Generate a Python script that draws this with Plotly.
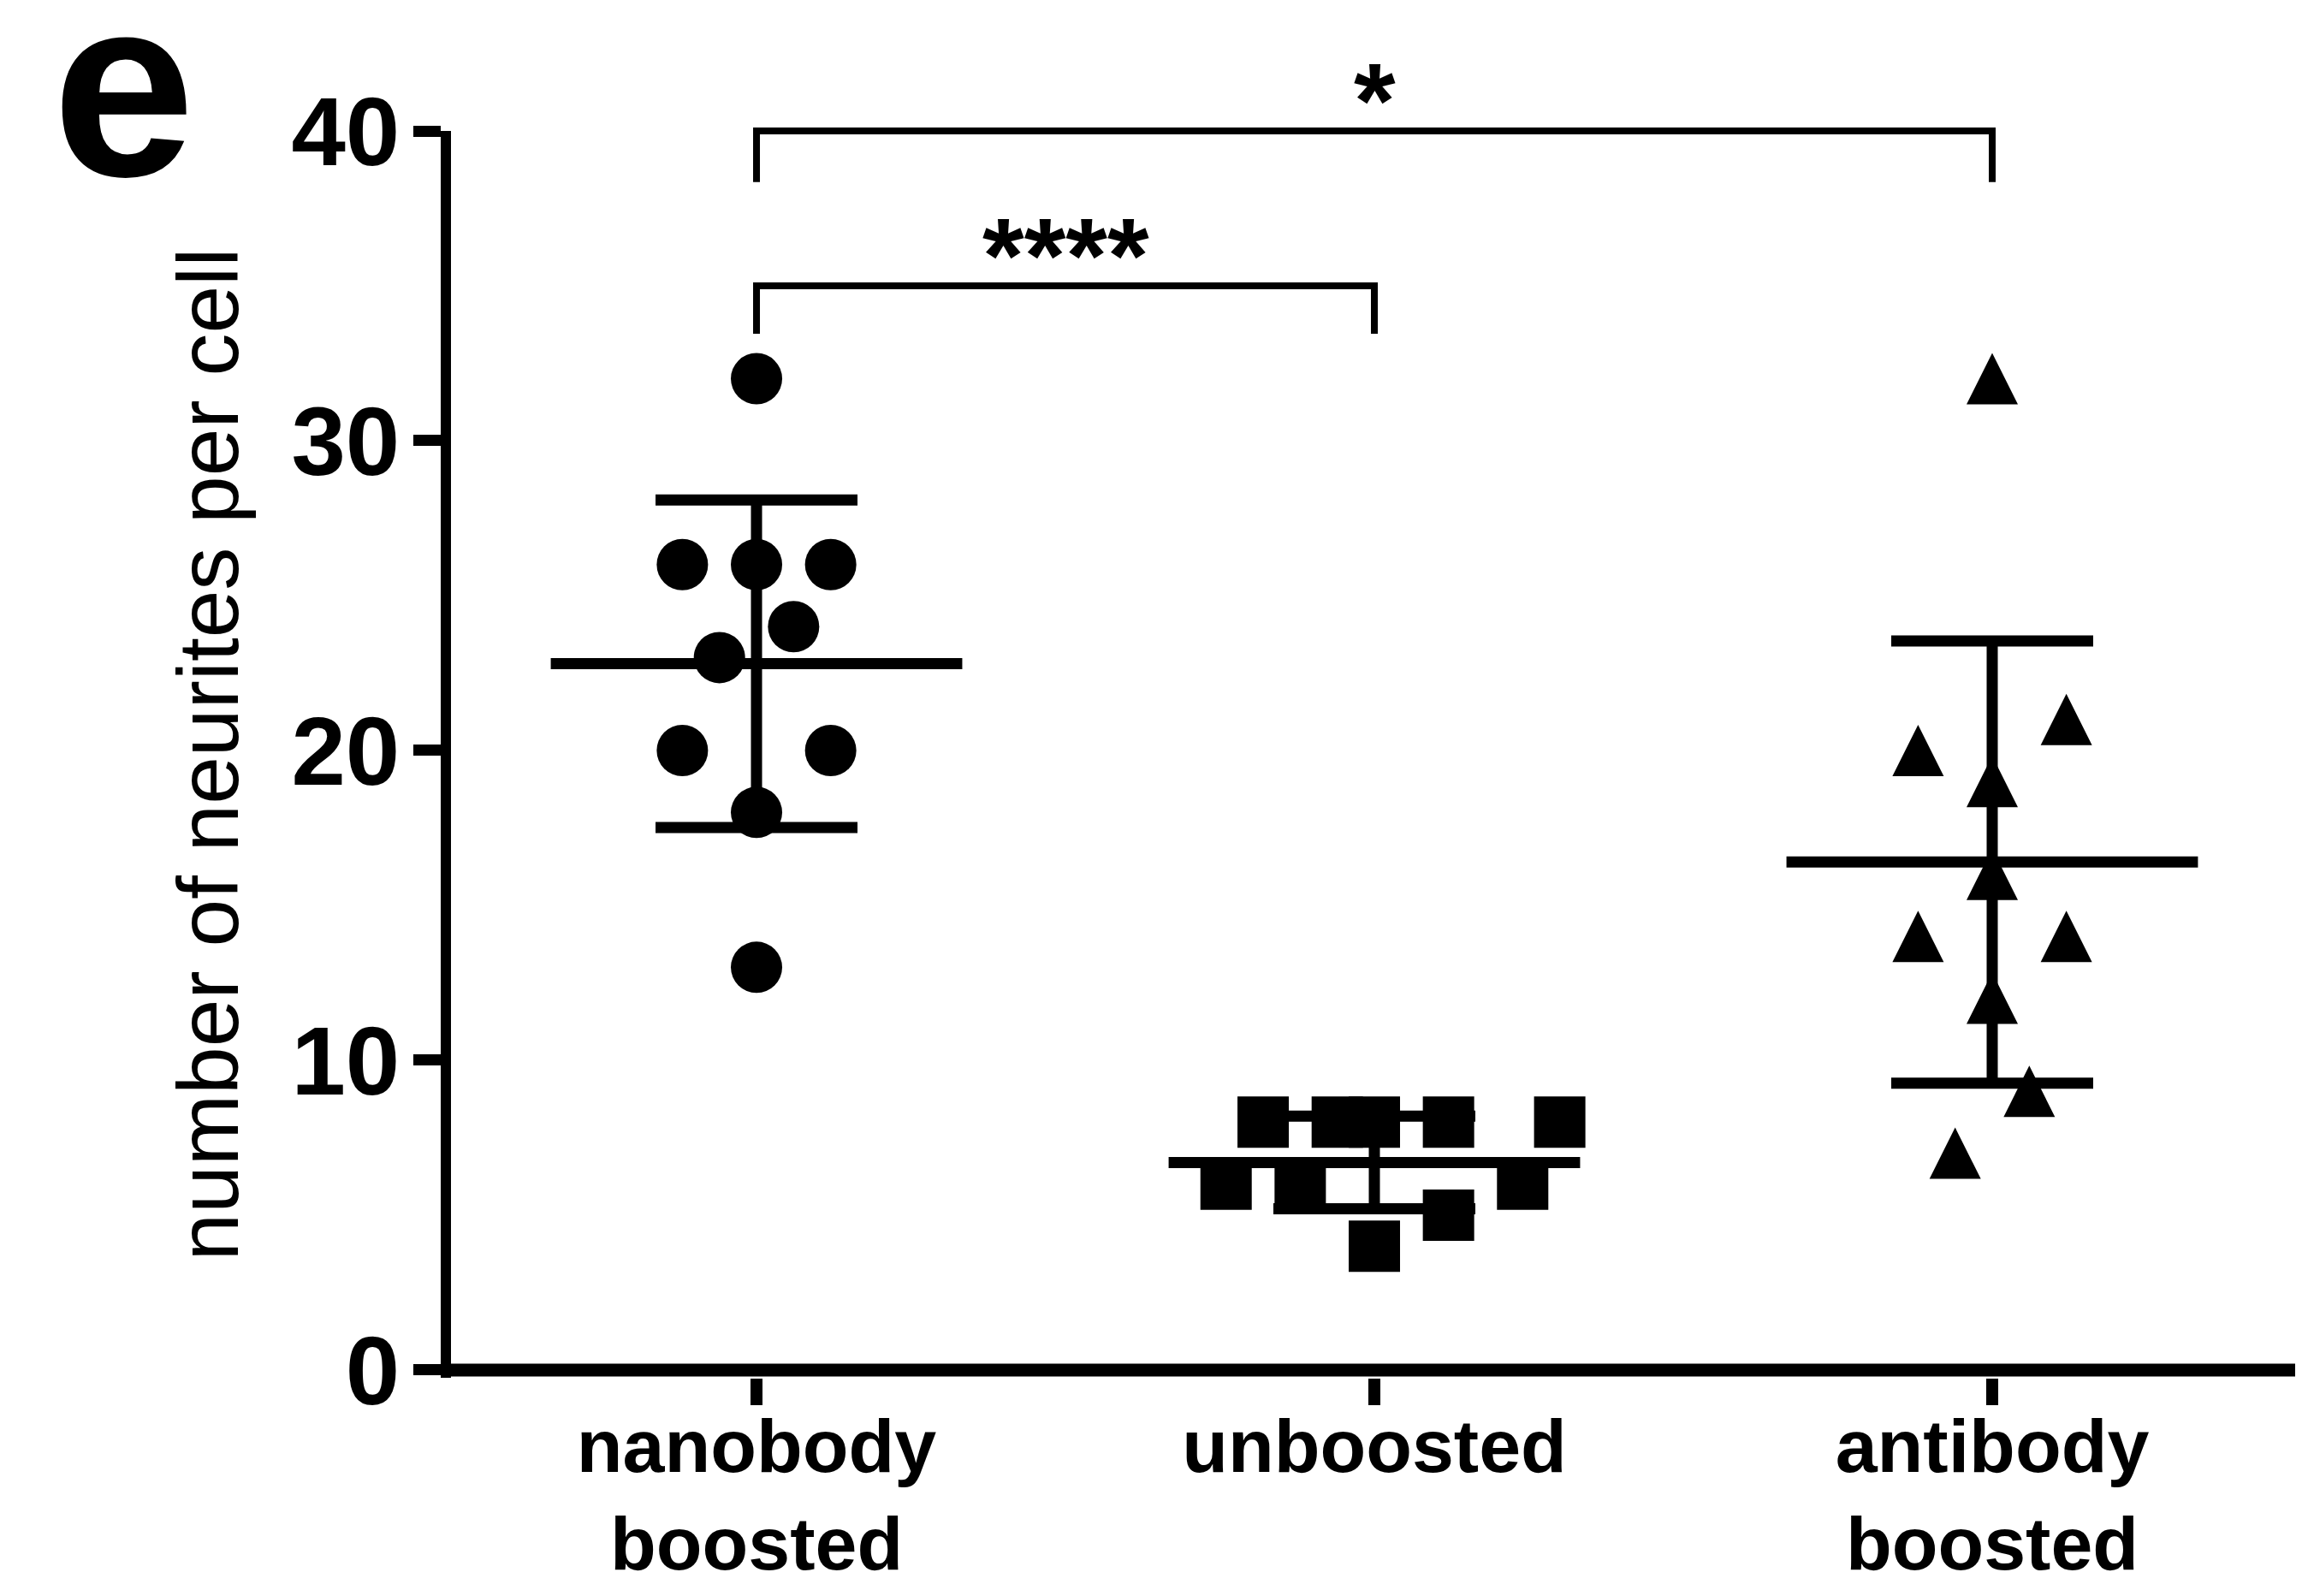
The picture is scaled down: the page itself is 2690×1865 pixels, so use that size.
import numpy as np
import plotly.graph_objects as go

# ---------------- data ----------------
categories = ["nanobody<br>boosted", "unboosted", "antibody<br>boosted"]
nanobody_boosted = [32, 26, 26, 26, 24, 23, 20, 20, 18, 13]
unboosted = [8, 8, 8, 8, 8, 6, 6, 6, 5, 4]
antibody_boosted = [32, 21, 20, 19, 16, 14, 14, 12, 9, 7]
# horizontal scatter of the points inside each column (category units)
jitter_nanobody = [0, -0.12, 0, 0.12, 0.06, -0.06, -0.12, 0.12, 0, 0]
jitter_unboosted = [-0.18, -0.06, 0, 0.12, 0.30, -0.24, -0.12, 0.24, 0.12, 0]
jitter_antibody = [0, 0.12, -0.12, 0, 0, -0.12, 0.12, 0, 0.06, -0.06]
y_ticks = [0, 10, 20, 30, 40]
y_title = "number of neurites per cell"
panel_label = "e"
# significance brackets: (left group, right group, label, bar height, leg length)
brackets = [(0, 2, "*", 40.0, 1.65), (0, 1, "****", 35.0, 1.55)]

# ---------------- figure geometry ----------------
# the page body has an 8 px margin, so the figure is 8 px smaller
W, H = 2682, 1857
L, R, T, B = 519, 0, 145, 255
Y_RANGE = [-0.25, 40]
X_RANGE = [-0.4945, 2.5014]
plot_w = W - L - R
plot_h = H - T - B


def fig_x_to_paper(px):
    return (px - L) / plot_w


def fig_y_to_paper(py):
    return (H - B - py) / plot_h


def val_to_paper(v):
    return (v - Y_RANGE[0]) / (Y_RANGE[1] - Y_RANGE[0])


groups = [nanobody_boosted, unboosted, antibody_boosted]
jitters = [jitter_nanobody, jitter_unboosted, jitter_antibody]
symbols = ["circle", "square", "arrow-down"]

fig = go.Figure()

for i, (vals, jit, sym) in enumerate(zip(groups, jitters, symbols)):
    marker = dict(symbol=sym, size=60, color="black", line=dict(width=0))
    if sym == "arrow-down":
        # rotated to point up; standoff centres the triangle on its value
        marker.update(angle=180, standoff=30)
    fig.add_trace(go.Scatter(
        x=[i + j for j in jit], y=vals, mode="markers",
        marker=marker, showlegend=False, hoverinfo="y"))

for i, vals in enumerate(groups):
    m = float(np.mean(vals))
    sd = float(np.std(vals, ddof=1))
    fig.add_trace(go.Scatter(
        x=[i], y=[m], mode="markers",
        marker=dict(size=1, color="rgba(0,0,0,0)"),
        error_x=dict(type="data", array=[0.333], symmetric=True,
                     thickness=13, width=0, color="black"),
        error_y=dict(type="data", array=[sd], symmetric=True,
                     thickness=13, width=118, color="black"),
        showlegend=False, hoverinfo="skip"))

shapes = []
annotations = []

# x axis line drawn at value 0 (centred on zero, like the reference)
shapes.append(dict(
    type="line", xref="paper", yref="paper",
    x0=fig_x_to_paper(L - 12), x1=1.0,
    y0=val_to_paper(0), y1=val_to_paper(0),
    line=dict(color="black", width=15)))

for (a, b, lab, h, drop) in brackets:
    y_top = val_to_paper(h)
    y_bot = val_to_paper(h - drop)
    shapes.append(dict(
        type="path", xref="x", yref="paper",
        path=f"M {a},{y_bot} L {a},{y_top} L {b},{y_top} L {b},{y_bot}",
        line=dict(color="black", width=8)))
    annotations.append(dict(
        x=(a + b) / 2, xref="x", y=y_top, yref="paper",
        text=lab, showarrow=False, xanchor="center", yanchor="bottom",
        yshift=-36,
        font=dict(family="Liberation Sans", size=125, color="black", weight="bold")))

# panel letter: box trimmed to the glyph (lower-case letter, no ascender)
annotations.append(dict(
    x=fig_x_to_paper(51), y=fig_y_to_paper(263), xref="paper", yref="paper",
    text=panel_label, showarrow=False, xanchor="left", yanchor="bottom",
    height=235, valign="bottom",
    font=dict(family="Liberation Sans", size=300, color="black", weight="bold")))

fig.update_layout(
    width=W, height=H,
    margin=dict(l=L, r=R, t=T, b=B, autoexpand=False),
    paper_bgcolor="white", plot_bgcolor="white",
    shapes=shapes, annotations=annotations,
    xaxis=dict(
        range=X_RANGE, tickmode="array", tickvals=[0, 1, 2], ticktext=categories,
        showline=False,
        ticks="outside", ticklen=31, tickwidth=14, tickcolor="black",
        ticklabelstandoff=-28,
        showgrid=False, zeroline=False,
        tickfont=dict(family="Liberation Sans", size=88, color="black", weight="bold")),
    yaxis=dict(
        range=Y_RANGE, tickmode="array", tickvals=y_ticks,
        showline=True, linewidth=12, linecolor="black",
        ticks="outside", ticklen=32, tickwidth=13, tickcolor="black",
        ticklabelstandoff=-7,
        showgrid=False, zeroline=False,
        tickfont=dict(family="Liberation Sans", size=114, color="black", weight="bold"),
        title=dict(text=y_title, standoff=33,
                   font=dict(family="Liberation Sans", size=100, color="black"))),
)

fig.write_html("out.html")
